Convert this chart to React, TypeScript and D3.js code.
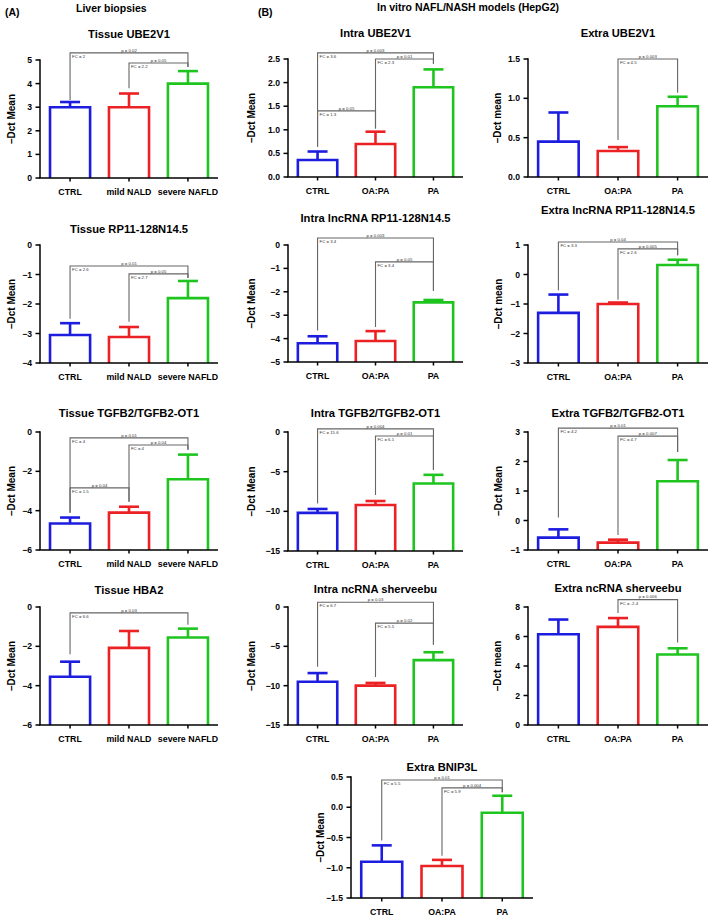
import React from "react";
import * as d3 from "d3";

const tissueGroups = ["CTRL", "mild NALD", "severe NAFLD"];
const cellGroups = ["CTRL", "OA:PA", "PA"];
const barColors = ["#1d1de0", "#ec2124", "#1fc51f"];

// bracket: [from, to, level, left leg end, right leg end, p label, FC label]
type Bracket = [number, number, number, number, number, string, string];

// means and top of error bar for each group
const tissueUbeMean = [3.0, 3.0, 4.0];
const tissueUbeErr = [3.22, 3.58, 4.53];
const tissueUbeBr: Bracket[] = [
  [0, 2, 5.3, 3.3, 4.7, "p = 0.02", "FC = 2"],
  [1, 2, 4.87, 3.8, 4.7, "p = 0.05", "FC = 2.2"],
];

const intraUbeMean = [0.36, 0.7, 1.9];
const intraUbeErr = [0.54, 0.96, 2.28];
const intraUbeBr: Bracket[] = [
  [0, 2, 2.63, 0.64, 2.4, "p = 0.003", "FC = 3.6"],
  [1, 2, 2.5, 1.03, 2.4, "p = 0.01", "FC = 2.3"],
  [0, 1, 1.4, 0.64, 1.03, "p = 0.05", "FC = 1.3"],
];

const extraUbeMean = [0.45, 0.33, 0.9];
const extraUbeErr = [0.82, 0.38, 1.02];
const extraUbeBr: Bracket[] = [[1, 2, 1.5, 0.47, 1.07, "p = 0.003", "FC = 4.5"]];

const tissueRpMean = [-3.05, -3.12, -1.8];
const tissueRpErr = [-2.65, -2.78, -1.22];
const tissueRpBr: Bracket[] = [
  [0, 2, -0.71, -2.5, -1.12, "p = 0.01", "FC = 2.6"],
  [1, 2, -0.98, -2.6, -1.12, "p = 0.05", "FC = 2.7"],
];

const intraRpMean = [-4.2, -4.1, -2.45];
const intraRpErr = [-3.9, -3.68, -2.35];
const intraRpBr: Bracket[] = [
  [0, 2, 0.3, -3.65, -1.95, "p = 0.003", "FC = 3.4"],
  [1, 2, -0.72, -3.5, -1.95, "p = 0.05", "FC = 3.4"],
];

const extraRpMean = [-1.3, -1.0, 0.32];
const extraRpErr = [-0.68, -0.95, 0.5];
const extraRpBr: Bracket[] = [
  [0, 2, 1.1, -0.53, 0.65, "p = 0.04", "FC = 3.3"],
  [1, 2, 0.87, -0.86, 0.65, "p = 0.005", "FC = 2.6"],
];

const tissueTgfMean = [-4.65, -4.1, -2.4];
const tissueTgfErr = [-4.35, -3.8, -1.15];
const tissueTgfBr: Bracket[] = [
  [0, 2, -0.3, -4.1, -0.9, "p = 0.01", "FC = 4"],
  [1, 2, -0.66, -3.55, -0.9, "p = 0.04", "FC = 4"],
  [0, 1, -2.84, -4.1, -3.55, "p = 0.04", "FC = 1.5"],
];

const intraTgfMean = [-10.2, -9.2, -6.5];
const intraTgfErr = [-9.7, -8.7, -5.4];
const intraTgfBr: Bracket[] = [
  [0, 2, 0.4, -9.0, -4.8, "p = 0.004", "FC = 15.6"],
  [1, 2, -0.5, -7.95, -4.8, "p = 0.01", "FC = 6.1"],
];

const extraTgfMean = [-0.58, -0.75, 1.33];
const extraTgfErr = [-0.3, -0.65, 2.05];
const extraTgfBr: Bracket[] = [
  [0, 2, 3.13, 0.1, 2.32, "p = 0.01", "FC = 4.2"],
  [1, 2, 2.86, -0.49, 2.32, "p = 0.007", "FC = 4.7"],
];

const tissueHbaMean = [-3.55, -2.08, -1.55];
const tissueHbaErr = [-2.78, -1.22, -1.1];
const tissueHbaBr: Bracket[] = [[0, 2, -0.3, -2.4, -0.9, "p = 0.03", "FC = 6.6"]];

const intraShMean = [-9.5, -10.0, -6.75];
const intraShErr = [-8.4, -9.65, -5.75];
const intraShBr: Bracket[] = [
  [0, 2, 0.6, -7.6, -4.8, "p = 0.03", "FC = 6.7"],
  [1, 2, -2.05, -8.9, -4.8, "p = 0.02", "FC = 5.5"],
];

const extraShMean = [6.15, 6.65, 4.78];
const extraShErr = [7.15, 7.25, 5.2];
const extraShBr: Bracket[] = [[1, 2, 8.5, 7.6, 5.6, "p = 0.006", "FC = -2.4"]];

const extraBnMean = [-0.9, -0.97, -0.09];
const extraBnErr = [-0.63, -0.87, 0.19];
const extraBnBr: Bracket[] = [
  [0, 2, 0.45, -0.55, 0.25, "p = 0.01", "FC = 5.5"],
  [1, 2, 0.32, -0.8, 0.25, "p = 0.004", "FC = 5.9"],
];

// horizontal extent of each column (y axis x, right end)
const columns: Record<string, [number, number]> = {
  A: [40, 218],
  B: [288, 463],
  C: [528, 708],
  D: [351, 533],
};

const panels = [
  { title: "Tissue  UBE2V1", groups: tissueGroups, mean: tissueUbeMean, err: tissueUbeErr, br: tissueUbeBr, domain: [0, 5], step: 1, dec: false, ylab: "–Dct Mean", col: "A", plot: [60, 178], titleY: 38, labX: 11 },
  { title: "Intra  UBE2V1", groups: cellGroups, mean: intraUbeMean, err: intraUbeErr, br: intraUbeBr, domain: [0, 2.5], step: 0.5, dec: true, ylab: "–Dct  Mean", col: "B", plot: [59, 177], titleY: 37, labX: 251 },
  { title: "Extra UBE2V1", groups: cellGroups, mean: extraUbeMean, err: extraUbeErr, br: extraUbeBr, domain: [0, 1.5], step: 0.5, dec: true, ylab: "–Dct mean", col: "C", plot: [59, 177], titleY: 37, labX: 497 },
  { title: "Tissue RP11-128N14.5", groups: tissueGroups, mean: tissueRpMean, err: tissueRpErr, br: tissueRpBr, domain: [-4, 0], step: 1, dec: false, ylab: "–Dct  Mean", col: "A", plot: [245, 363], titleY: 233, labX: 11 },
  { title: "Intra lncRNA RP11-128N14.5", groups: cellGroups, mean: intraRpMean, err: intraRpErr, br: intraRpBr, domain: [-5, 0], step: 1, dec: false, ylab: "–Dct  Mean", col: "B", plot: [245, 362], titleY: 222, labX: 251 },
  { title: "Extra lncRNA RP11-128N14.5", groups: cellGroups, mean: extraRpMean, err: extraRpErr, br: extraRpBr, domain: [-3, 1], step: 1, dec: false, ylab: "–Dct mean", col: "C", plot: [245, 363], titleY: 214, labX: 498 },
  { title: "Tissue TGFB2/TGFB2-OT1", groups: tissueGroups, mean: tissueTgfMean, err: tissueTgfErr, br: tissueTgfBr, domain: [-6, 0], step: 2, dec: false, ylab: "–Dct  Mean", col: "A", plot: [432, 550], titleY: 417, labX: 11 },
  { title: "Intra TGFB2/TGFB2-OT1", groups: cellGroups, mean: intraTgfMean, err: intraTgfErr, br: intraTgfBr, domain: [-15, 0], step: 5, dec: false, ylab: "–Dct Mean", col: "B", plot: [432, 551], titleY: 417, labX: 251 },
  { title: "Extra TGFB2/TGFB2-OT1", groups: cellGroups, mean: extraTgfMean, err: extraTgfErr, br: extraTgfBr, domain: [-1, 3], step: 1, dec: false, ylab: "–Dct Mean", col: "C", plot: [432, 550], titleY: 417, labX: 498 },
  { title: "Tissue HBA2", groups: tissueGroups, mean: tissueHbaMean, err: tissueHbaErr, br: tissueHbaBr, domain: [-6, 0], step: 2, dec: false, ylab: "–Dct  Mean", col: "A", plot: [607, 725], titleY: 594, labX: 11 },
  { title: "Intra ncRNA sherveebu", groups: cellGroups, mean: intraShMean, err: intraShErr, br: intraShBr, domain: [-15, 0], step: 5, dec: false, ylab: "–Dct Mean", col: "B", plot: [607, 725], titleY: 593, labX: 251 },
  { title: "Extra ncRNA sherveebu", groups: cellGroups, mean: extraShMean, err: extraShErr, br: extraShBr, domain: [0, 8], step: 2, dec: false, ylab: "–Dct mean", col: "C", plot: [607, 725], titleY: 592, labX: 497 },
  { title: "Extra BNIP3L", groups: cellGroups, mean: extraBnMean, err: extraBnErr, br: extraBnBr, domain: [-1.5, 0.5], step: 0.5, dec: true, ylab: "–Dct Mean", col: "D", plot: [777, 898], titleY: 771, labX: 320 },
];

const FONT = "'Liberation Sans', Arial, sans-serif";

function Panel({ p }: { p: (typeof panels)[number] }) {
  const [x0, x1] = columns[p.col];
  const [top, bottom] = p.plot;
  const x = d3.scaleBand().domain(p.groups).range([x0, x1]).paddingInner(0.32).paddingOuter(0.17);
  const y = d3.scaleLinear().domain(p.domain).range([bottom, top]);
  const ticks = d3.range(p.domain[0], p.domain[1] + p.step / 2, p.step);
  const fmt = p.dec ? d3.format(".1f") : d3.format("d");
  const cx = (i: number) => (x(p.groups[i]) as number) + x.bandwidth() / 2;
  const titleX = (x0 + x1) / 2;

  return (
    <g>
      <text x={titleX} y={p.titleY} textAnchor="middle" fontSize={11.2} fontWeight="bold" fontFamily={FONT}>
        {p.title}
      </text>
      <text
        transform={`translate(${p.labX},${(top + bottom) / 2}) rotate(-90)`}
        textAnchor="middle"
        dominantBaseline="central"
        fontSize={10}
        fontWeight="bold"
        fontFamily={FONT}
      >
        {p.ylab}
      </text>

      {/* brackets */}
      {p.br.map((b, k) => {
        const xa = cx(b[0]);
        const xb = cx(b[1]);
        const yl = y(b[2]);
        return (
          <g key={"b" + k}>
            <path
              d={`M${xa},${y(b[3])}V${yl}H${xb}V${y(b[4])}`}
              fill="none"
              stroke="#666"
              strokeWidth={1.1}
            />
            <text x={(xa + xb) / 2} y={yl - 1.3} textAnchor="middle" fontSize={4.3} fontFamily={FONT} fill="#333">
              {b[5]}
            </text>
            <text x={xa + 2} y={yl + 5} fontSize={4.3} fontFamily={FONT} fill="#333">
              {b[6]}
            </text>
          </g>
        );
      })}

      {/* bars and error bars */}
      {p.groups.map((g, i) => {
        const c = barColors[i];
        const xm = cx(i);
        const ym = y(p.mean[i]);
        const ye = y(p.err[i]);
        return (
          <g key={g} stroke={c} strokeWidth={2.6} fill="none">
            <path d={`M${x(g)},${bottom}V${ym}H${(x(g) as number) + x.bandwidth()}V${bottom}`} fill="#fff" />
            <line x1={xm} x2={xm} y1={ym} y2={ye} />
            <line x1={xm - 10} x2={xm + 10} y1={ye} y2={ye} />
          </g>
        );
      })}

      {/* y axis */}
      <line x1={x0} x2={x0} y1={top - 0.7} y2={bottom} stroke="#000" strokeWidth={1.5} />
      {ticks.map((t) => (
        <g key={"t" + t}>
          <line x1={x0 - 4.5} x2={x0} y1={y(t)} y2={y(t)} stroke="#000" strokeWidth={1.5} />
          <text x={x0 - 8} y={y(t)} textAnchor="end" dominantBaseline="central" fontSize={8.6} fontWeight="bold" fontFamily={FONT}>
            {fmt(t)}
          </text>
        </g>
      ))}

      {/* x axis */}
      <line x1={x0 - 0.7} x2={x1} y1={bottom} y2={bottom} stroke="#000" strokeWidth={1.5} />
      {p.groups.map((g, i) => (
        <g key={"x" + g}>
          <line x1={cx(i)} x2={cx(i)} y1={bottom} y2={bottom + 3.5} stroke="#000" strokeWidth={1.5} />
          <text x={cx(i)} y={bottom + 17} textAnchor="middle" fontSize={8.8} fontWeight="bold" fontFamily={FONT}>
            {g}
          </text>
        </g>
      ))}
    </g>
  );
}

export default function App() {
  return (
    <svg
      width={709}
      height={924}
      style={{ position: "absolute", left: 0, top: 0, background: "#fff" }}
    >
      <text x={5} y={16} fontSize={10.5} fontWeight="bold" fontFamily={FONT}>(A)</text>
      <text x={76} y={12} fontSize={10.5} fontWeight="bold" fontFamily={FONT}>Liver biopsies</text>
      <text x={258} y={16} fontSize={10.5} fontWeight="bold" fontFamily={FONT}>(B)</text>
      <text x={377} y={11} fontSize={10.5} fontWeight="bold" fontFamily={FONT}>In vitro NAFL/NASH models (HepG2)</text>
      {panels.map((p) => (
        <Panel key={p.title} p={p} />
      ))}
    </svg>
  );
}
